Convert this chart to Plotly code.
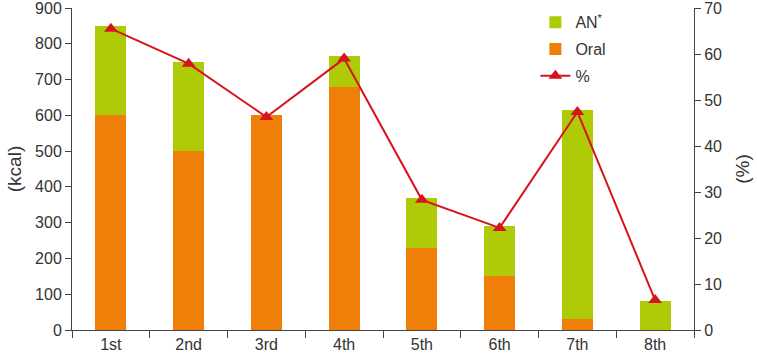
import plotly.graph_objects as go

categories = ["1st", "2nd", "3rd", "4th", "5th", "6th", "7th", "8th"]
oral_kcal = [600, 500, 600, 680, 230, 150, 30, 0]
an_kcal = [250, 250, 0, 85, 140, 140, 585, 82]
percent = [65.5, 57.9, 46.3, 59.0, 28.3, 22.2, 47.4, 6.5]

GREEN = "#AFCB08"
ORANGE = "#F07F09"
RED = "#D7141E"
FONT = "Liberation Sans"

fig = go.Figure()
fig.add_trace(go.Bar(x=categories, y=oral_kcal, name="Oral", marker_color=ORANGE,
                     marker_line_width=0, legendgroup="b", legendrank=2))
fig.add_trace(go.Bar(x=categories, y=an_kcal, name="AN<sup>*</sup>", marker_color=GREEN,
                     marker_line_width=0, legendgroup="a", legendrank=1))
fig.add_trace(go.Scatter(x=categories, y=percent, name="%", yaxis="y2", mode="lines+markers",
                         line=dict(color=RED, width=2),
                         marker=dict(symbol="triangle-up", size=12, color=RED),
                         legendgroup="c", legendrank=3))

fig.update_layout(
    width=757, height=355,
    margin=dict(l=72, r=63, t=8, b=25, autoexpand=False),
    barmode="stack", bargap=0.6,
    plot_bgcolor="white", paper_bgcolor="white",
    font=dict(family=FONT, size=16, color="#333333"),
    showlegend=True,
    legend=dict(x=0.745, y=0.985, yref="container", xanchor="left", yanchor="top",
                traceorder="grouped",
                bgcolor="rgba(0,0,0,0)", font=dict(size=16), tracegroupgap=3),
    xaxis=dict(showline=True, linecolor="#444444", linewidth=1, ticks="outside",
               tickson="boundaries", ticklen=7, tickcolor="#444444", showgrid=False,
               automargin=False, tickfont=dict(size=16)),
    yaxis=dict(range=[0, 900], dtick=100, showline=True, linecolor="#444444", linewidth=1,
               ticks="outside", ticklen=6, tickcolor="#444444", showgrid=False, zeroline=False,
               ticklabeloverflow="allow", automargin=False,
               title=dict(text="(kcal)", standoff=8), tickfont=dict(size=16)),
    yaxis2=dict(range=[0, 70], dtick=10, overlaying="y", side="right", showline=True,
                linecolor="#444444", linewidth=1, ticks="outside", ticklen=6,
                tickcolor="#444444", showgrid=False, zeroline=False,
                ticklabeloverflow="allow", automargin=False,
                title=dict(text="(%)", standoff=14), tickfont=dict(size=16)),
)

fig.write_html("out.html")
